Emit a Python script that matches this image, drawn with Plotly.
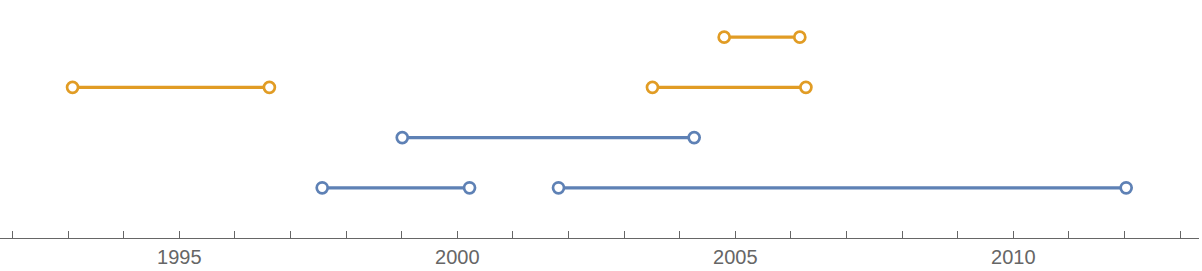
import plotly.graph_objects as go

# Intervals (years), row index (1 = bottom)
orange_start = [2004.80, 1993.08, 2003.51]
orange_end = [2006.16, 1996.62, 2006.27]
orange_row = [4, 3, 3]

blue_start = [1999.01, 1997.57, 2001.82]
blue_end = [2004.26, 2000.22, 2012.03]
blue_row = [2, 1, 1]

tick_years = list(range(1992, 2014))
tick_labels = [str(y) if y % 5 == 0 else "" for y in tick_years]

ORANGE = "#E19C24"
BLUE = "#5E81B5"

fig = go.Figure()

def add_intervals(starts, ends, rows, color):
    for s, e, r in zip(starts, ends, rows):
        fig.add_trace(go.Scatter(
            x=[s, e], y=[r, r], mode="lines+markers",
            line=dict(color=color, width=3.2),
            marker=dict(symbol="circle", size=11, color="white",
                        line=dict(color=color, width=2.7)),
            showlegend=False, hoverinfo="x",
        ))

add_intervals(blue_start, blue_end, blue_row, BLUE)
add_intervals(orange_start, orange_end, orange_row, ORANGE)

fig.update_layout(
    width=1202, height=271,
    margin=dict(l=0, r=3, t=0, b=33),
    paper_bgcolor="white", plot_bgcolor="white",
    font=dict(family="Liberation Sans, Arial, sans-serif", color="#666666"),
    xaxis=dict(
        range=[1991.775, 2013.34],
        tickmode="array", tickvals=tick_years, ticktext=tick_labels,
        ticks="inside", ticklen=7, tickwidth=1, tickcolor="#666666",
        showline=True, linecolor="#666666", linewidth=1,
        showgrid=False, zeroline=False,
        tickfont=dict(size=20, color="#666666"),
        ticklabelstandoff=1,
    ),
    yaxis=dict(range=[0, 4.74], visible=False, showgrid=False, zeroline=False),
)

fig.write_html("out.html")
